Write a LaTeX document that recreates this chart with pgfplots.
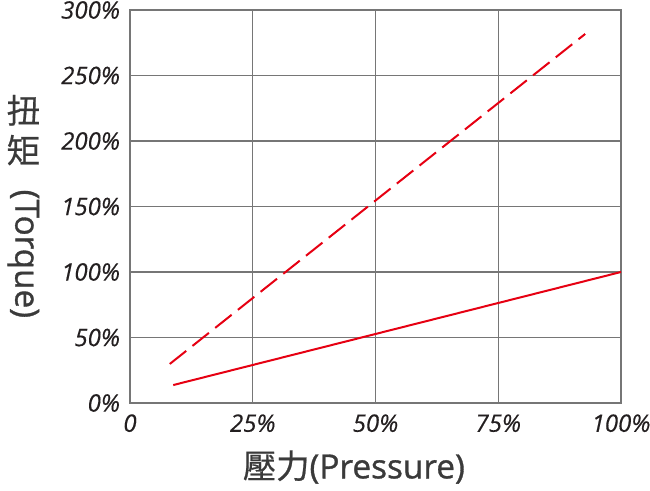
\documentclass[border=0pt]{standalone}
\usepackage{fontspec}
\usepackage{pgfplots}
\pgfplotsset{compat=1.18}
\usetikzlibrary{calc}
\setmainfont{Open Sans}
\newfontfamily\tickfont{Open Sans}[FakeBold=0.4]
\newfontfamily\labelfont{Open Sans}[FakeBold=1]
\newfontfamily\cjk{Noto Sans CJK TC}[FakeBold=0.6]

\definecolor{gridgray}{RGB}{118,118,118}
\definecolor{curvered}{RGB}{230,0,18}
\definecolor{tickdark}{RGB}{35,31,32}
\definecolor{labeldark}{RGB}{58,58,58}

\begin{document}
\begin{tikzpicture}
\begin{axis}[
    scale only axis,
    width=368.25pt,
    height=294.75pt,
    xmin=0, xmax=100,
    ymin=0, ymax=300,
    xtick={0,25,50,75,100},
    xticklabels={0,25\%,50\%,75\%,100\%},
    ytick={0,50,100,150,200,250,300},
    yticklabels={0\%,50\%,100\%,150\%,200\%,250\%,300\%},
    grid=major,
    major grid style={draw=gridgray, line width=0.9pt},
    axis line style={draw=gridgray, line width=0.9pt},
    major tick length=0pt,
    ticklabel style={font=\fontsize{18}{20}\tickfont\itshape, text=tickdark},
    xticklabel style={yshift=-5pt},
    yticklabel style={xshift=-4pt},
    xlabel={{\cjk 壓力}(Pressure)},
    xlabel style={font=\fontsize{25}{30}\labelfont, text=labeldark,
        at={(axis description cs:0.456,0)}, anchor=center, yshift=-48pt},
    ylabel={{\cjk 扭}\\{\cjk 矩}\\[-10pt]\rotatebox{-90}{(Torque)}},
    ylabel style={font=\fontsize{25}{30}\labelfont, text=labeldark,
        rotate=-90, align=center, at={(axis description cs:0,0.5)},
        anchor=center, xshift=-80pt},
]
% dashed curve
\addplot[curvered, line width=1.5pt, dash pattern=on 15.75pt off 6pt]
    coordinates {(8.1,29.8) (92.7,281.7)};
% solid curve
\addplot[curvered, line width=1.5pt]
    coordinates {(8.8,13.7) (100,100)};
\end{axis}
\pgfresetboundingbox
\path[use as bounding box] ($(current axis.south west)+(-97.5pt,-65.25pt)$)
    rectangle ($(current axis.north east)+(21.75pt,7.5pt)$);
\end{tikzpicture}
\end{document}
